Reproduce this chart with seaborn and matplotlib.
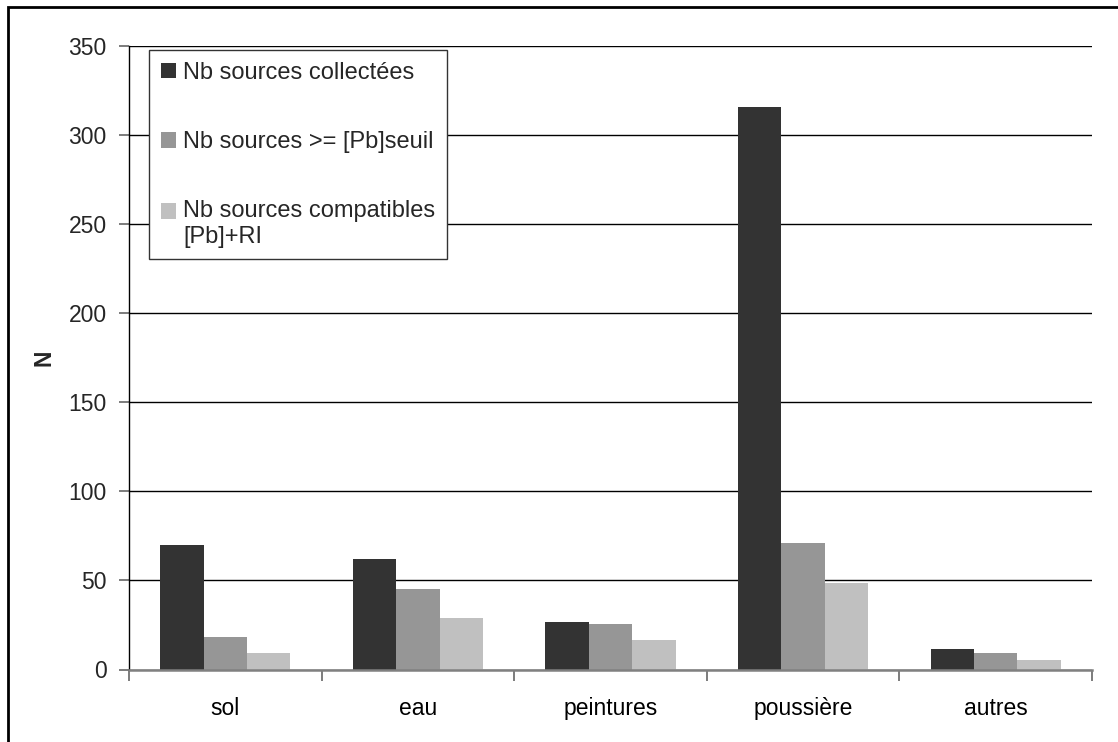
import matplotlib
matplotlib.use("Agg")
import matplotlib.pyplot as plt
from matplotlib.patches import Rectangle
import seaborn as sns
import pandas as pd

# Categories of sources and counts per series
categories = ["sol", "eau", "peintures", "poussière", "autres"]
series_names = [
    "Nb sources collectées",
    "Nb sources >= [Pb]seuil",
    "Nb sources compatibles\n[Pb]+RI",
]
collectees = [70, 62, 26.5, 316, 11.5]
seuil = [18, 45, 25.5, 71, 9.5]
compatibles = [9, 29, 16.5, 48.5, 5.5]
y_ticks = [0, 50, 100, 150, 200, 250, 300, 350]
colors = ["#333333", "#969696", "#c0c0c0"]

rows = []
for name, vals in zip(series_names, [collectees, seuil, compatibles]):
    for cat, v in zip(categories, vals):
        rows.append({"categorie": cat, "serie": name, "N": v})
df = pd.DataFrame(rows)

sns.set_theme(style="white")
plt.rcParams["font.family"] = ["Liberation Sans", "DejaVu Sans"]

W, H = 1118, 742
fig = plt.figure(figsize=(W / 100, H / 100), dpi=100)
ax = fig.add_axes([129 / W, 1 - 669.5 / H, (1092 - 129) / W, (669.5 - 46) / H])

sns.barplot(
    data=df, x="categorie", y="N", hue="serie", order=categories,
    hue_order=series_names, palette=colors, saturation=1,
    width=0.675, gap=0, linewidth=0, ax=ax, zorder=3,
)

ax.set_xlim(-0.5, len(categories) - 0.5)
ax.set_ylim(0, 350)
ax.set_yticks(y_ticks)
ax.yaxis.grid(True, color="black", linewidth=1.0, zorder=0)
ax.set_axisbelow(True)

# Category labels centred, tick marks at category boundaries
ax.set_xticks(range(len(categories)))
ax.set_xticklabels(categories)
ax.set_xticks([i - 0.5 for i in range(len(categories) + 1)], minor=True)
ax.tick_params(axis="x", which="major", length=0, pad=20, labelsize=16.5, colors="black")
ax.tick_params(axis="x", which="minor", length=8, width=1.2, color="#666666", direction="out", bottom=True)
ax.tick_params(axis="y", length=7, width=1.2, color="#666666", direction="out", left=True, pad=9, labelsize=16.5)

for s in ["top", "right"]:
    ax.spines[s].set_visible(False)
ax.spines["left"].set_color("black")
ax.spines["left"].set_linewidth(1.0)
ax.spines["bottom"].set_color("#808080")
ax.spines["bottom"].set_linewidth(1.8)
ax.spines["bottom"].set_zorder(4)

ax.set_xlabel("")
ax.set_ylabel("N", fontsize=16.5, fontweight="bold")
ax.yaxis.set_label_coords((55 - 129) / (1092 - 129), 0.5)

handles, labels = ax.get_legend_handles_labels()
leg = ax.legend(
    handles, labels, loc="upper left",
    bbox_to_anchor=((149 - 129) / (1092 - 129), (669.5 - 50) / (669.5 - 46)),
    borderaxespad=0, fontsize=17, frameon=True, fancybox=False,
    handlelength=0.65, handleheight=0.65, handletextpad=0.3,
    labelspacing=2.0, borderpad=0.5,
)
leg.get_frame().set_edgecolor("#333333")
leg.get_frame().set_linewidth(1.0)
leg.get_frame().set_alpha(1)
leg.set_zorder(5)
# Align the last swatch with the first line of its two-line label
last = leg.legend_handles[-1]
last.set_y(last.get_y() + 9.5)

# Outer chart frame
fig.patches.append(Rectangle((8 / W, -0.1), 1.2, (H - 7) / H + 0.1,
                             transform=fig.transFigure, fill=False,
                             edgecolor="black", linewidth=2))

fig.savefig("out.png", dpi=100)
